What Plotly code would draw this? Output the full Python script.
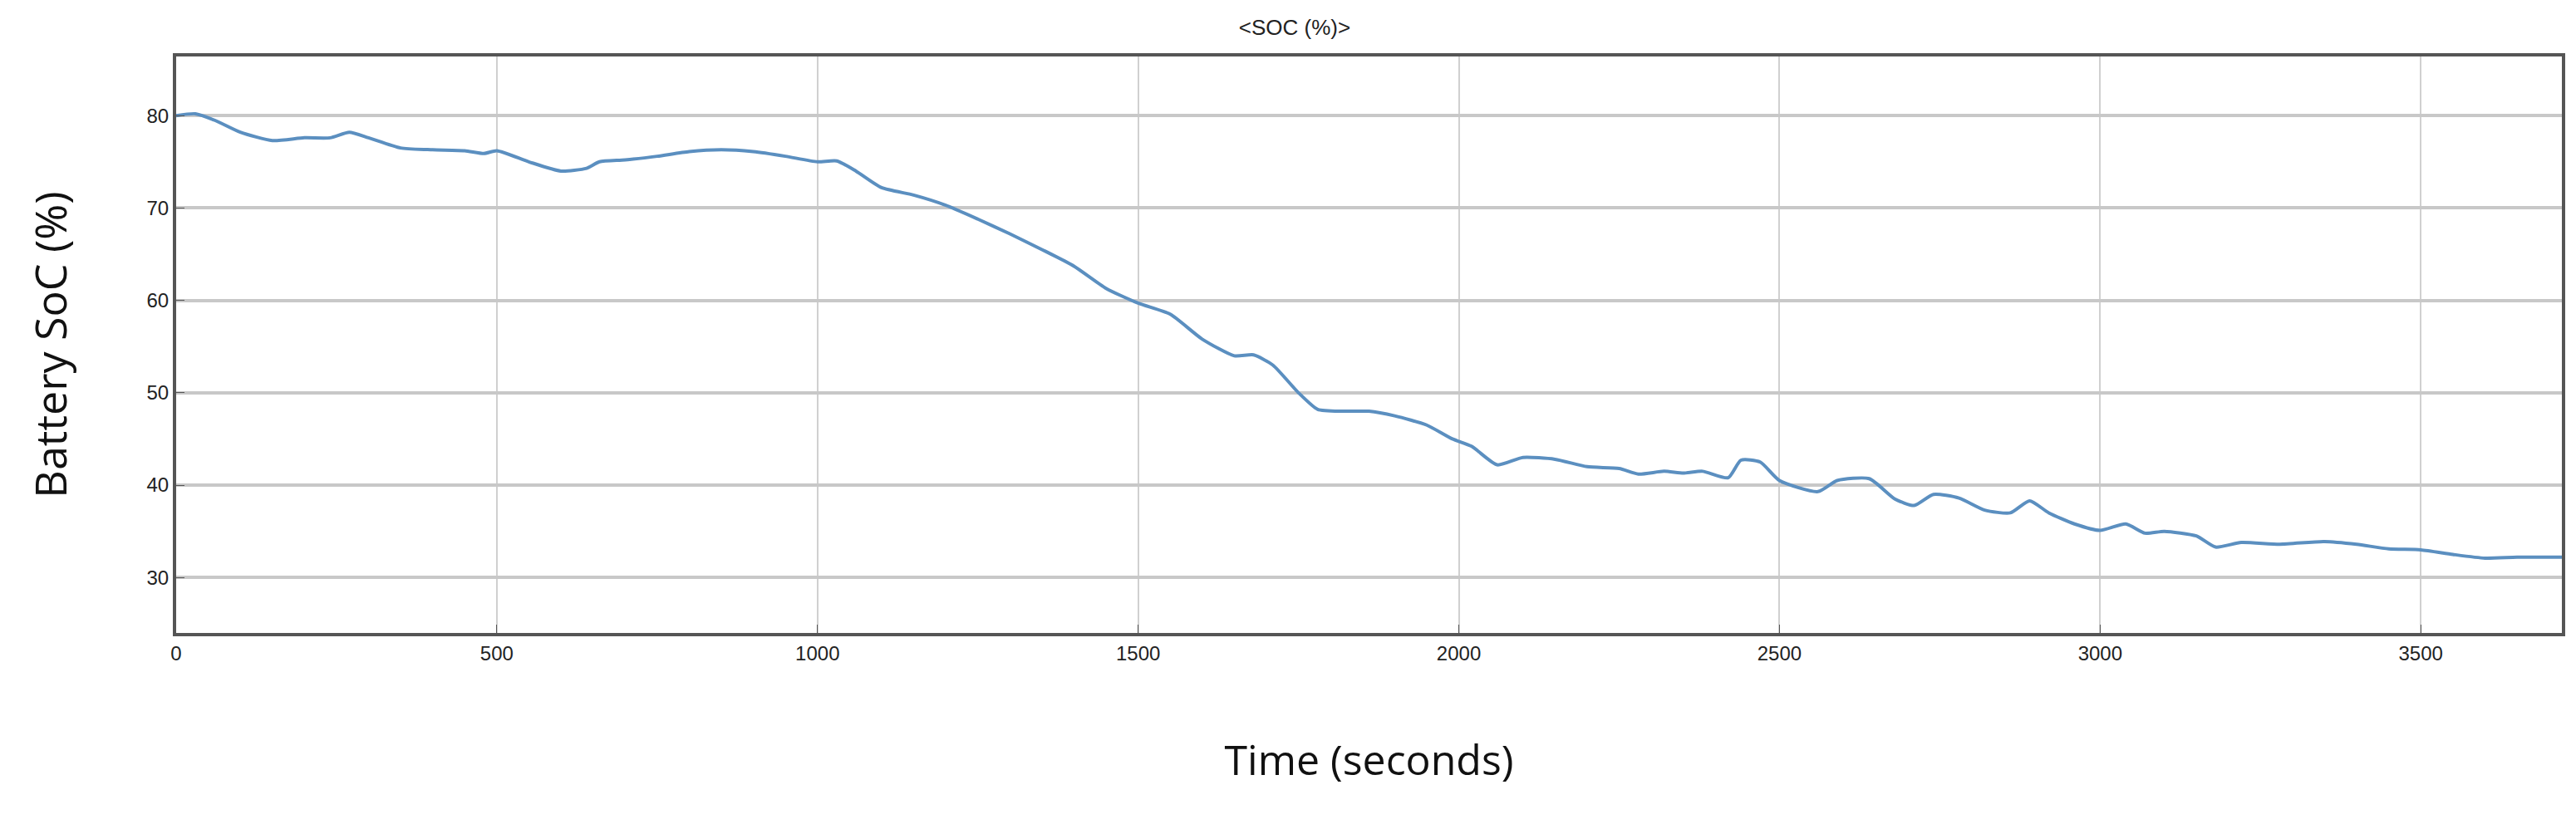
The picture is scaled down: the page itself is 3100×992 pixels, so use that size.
import plotly.graph_objects as go

time_s = [0,30,60,100,150,200,240,270,300,350,400,450,480,500,550,600,640,660,700,750,800,850,900,950,1000,1030,1060,1100,1150,1200,1250,1300,1350,1400,1450,1500,1550,1600,1650,1680,1710,1750,1780,1820,1860,1900,1950,1990,2020,2060,2100,2150,2200,2250,2280,2320,2350,2380,2420,2440,2470,2500,2560,2590,2640,2680,2710,2740,2780,2820,2860,2890,2920,2960,3000,3040,3070,3100,3150,3180,3220,3280,3350,3400,3450,3500,3550,3600,3650,3720]
soc = [80,80.2,79.5,78.2,77.3,77.6,77.6,78.2,77.6,76.5,76.3,76.2,75.9,76.2,75,74,74.3,75,75.2,75.6,76.1,76.3,76.1,75.6,75,75.1,74,72.2,71.4,70.3,68.8,67.2,65.5,63.7,61.3,59.7,58.5,55.8,54,54.1,53,50,48.2,48,48,47.5,46.5,45,44.2,42.2,43,42.8,42,41.8,41.2,41.5,41.3,41.5,40.8,42.7,42.5,40.5,39.3,40.5,40.7,38.5,37.8,39,38.6,37.3,37,38.3,37,35.8,35.1,35.8,34.8,35,34.5,33.3,33.8,33.6,33.9,33.6,33.1,33,32.5,32.1,32.2,32.2]
x_ticks = [0,500,1000,1500,2000,2500,3000,3500]
y_ticks = [30,40,50,60,70,80]

fig = go.Figure(go.Scatter(x=time_s, y=soc, mode="lines", line=dict(color="#5b8fc0", width=4, shape="spline", smoothing=0.6)))
fig.update_layout(
    width=3100, height=992, paper_bgcolor="white", plot_bgcolor="white",
    margin=dict(l=204, r=25, t=60, b=238), showlegend=False,
    title=dict(text="&lt;SOC (%)&gt;", x=0.5, xanchor="center", y=0.975, yanchor="middle",
               font=dict(family="Liberation Sans", size=26, color="#222")),
)
fig.update_xaxes(range=[0,3720], tickvals=x_ticks, showgrid=True, gridcolor="#d0d0d0", gridwidth=2,
                 showline=True, linecolor="#555", linewidth=4, mirror=True, ticks="inside", ticklen=10, tickcolor="#555",
                 tickfont=dict(family="Liberation Sans", size=24, color="#222"), zeroline=False,
                 title=dict(text="Time (seconds)", standoff=100, font=dict(family="Open Sans", size=50, color="#111")))
fig.update_yaxes(range=[24,86.4], tickvals=y_ticks, showgrid=True, gridcolor="#c8c8c8", gridwidth=4,
                 showline=True, linecolor="#555", linewidth=4, mirror=True, ticks="inside", ticklen=10, tickcolor="#555",
                 tickfont=dict(family="Liberation Sans", size=24, color="#222"), zeroline=False,
                 title=dict(text="Battery SoC (%)", standoff=80, font=dict(family="Open Sans", size=52, color="#111")))
fig.write_html("out.html")
